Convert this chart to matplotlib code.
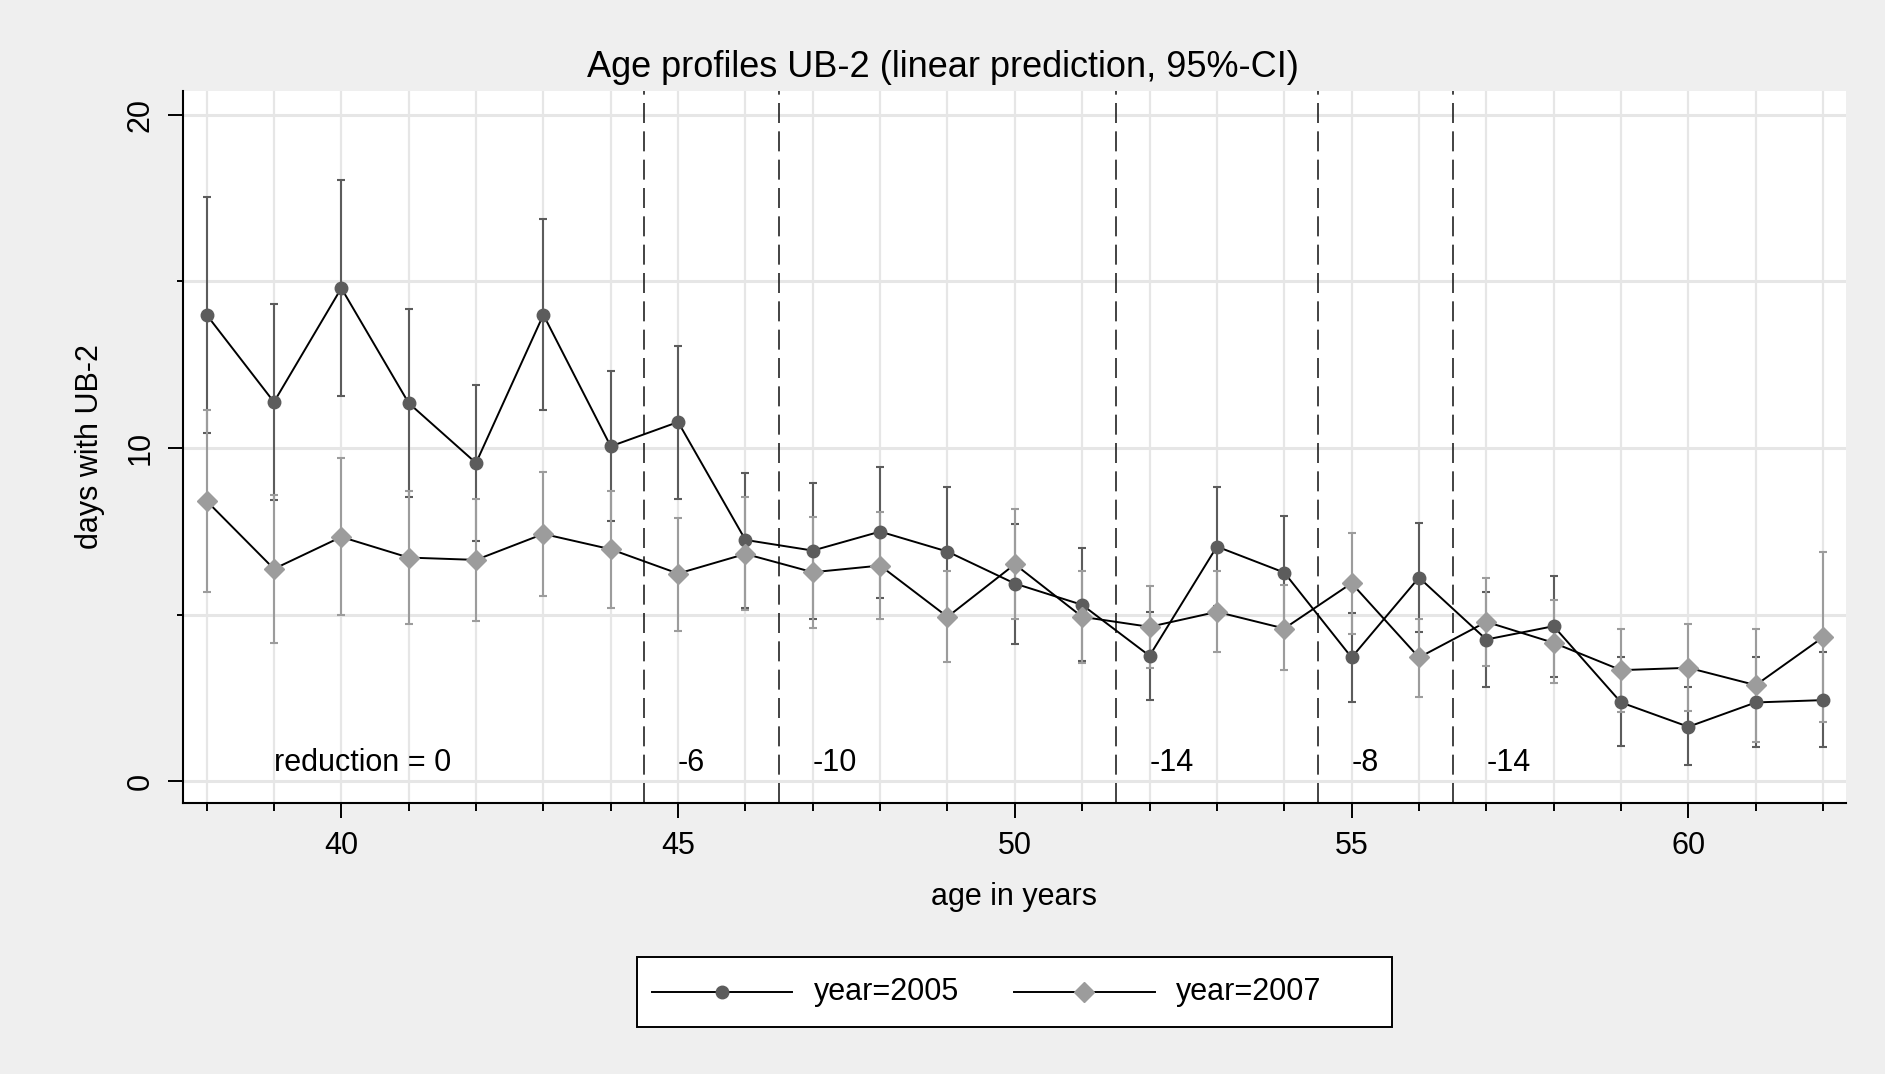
import matplotlib
matplotlib.use("Agg")
import matplotlib.pyplot as plt
from matplotlib.lines import Line2D
from matplotlib.patches import Rectangle
import numpy as np

plt.rcParams['font.family'] = ['Liberation Sans', 'DejaVu Sans']

# data
ages = list(range(38, 63))

mean_2005 = [14.0, 11.38, 14.8, 11.35, 9.55, 14.0, 10.05, 10.78, 7.24, 6.92,
             7.49, 6.89, 5.93, 5.29, 3.76, 7.04, 6.26, 3.71, 6.11, 4.25,
             4.65, 2.36, 1.63, 2.36, 2.43]
lo_2005 = [10.45, 8.44, 11.56, 8.53, 7.21, 11.14, 7.80, 8.47, 5.19, 4.88,
           5.50, 4.94, 4.12, 3.59, 2.43, 5.26, 4.56, 2.38, 4.48, 2.83,
           3.11, 1.05, 0.48, 1.03, 1.03]
hi_2005 = [17.55, 14.32, 18.05, 14.17, 11.89, 16.88, 12.30, 13.06, 9.24, 8.96,
           9.44, 8.84, 7.72, 6.99, 5.09, 8.82, 7.96, 5.06, 7.74, 5.67,
           6.17, 3.71, 2.81, 3.71, 3.86]

mean_2007 = [8.41, 6.37, 7.33, 6.71, 6.64, 7.42, 6.96, 6.23, 6.82, 6.27,
             6.47, 4.93, 6.51, 4.93, 4.63, 5.08, 4.58, 5.94, 3.71, 4.78,
             4.15, 3.33, 3.40, 2.88, 4.32]
lo_2007 = [5.69, 4.14, 4.98, 4.72, 4.81, 5.56, 5.20, 4.50, 5.14, 4.60,
           4.86, 3.56, 4.88, 3.54, 3.39, 3.86, 3.33, 4.43, 2.53, 3.45,
           2.93, 2.08, 2.10, 1.18, 1.76]
hi_2007 = [11.13, 8.60, 9.70, 8.70, 8.48, 9.29, 8.71, 7.91, 8.52, 7.94,
           8.09, 6.32, 8.16, 6.32, 5.87, 6.32, 5.89, 7.44, 4.88, 6.11,
           5.44, 4.56, 4.71, 4.56, 6.89]

cutoffs = [44.5, 46.5, 51.5, 54.5, 56.5]
red_labels = ["reduction = 0", "-6", "-10", "-14", "-8", "-14"]
red_x = [39, 45, 47, 52, 55, 57]

BG = "#efefef"
GRID = "#e6e6e6"
C05 = "#5c5c5c"
C07 = "#9c9c9c"
FS = 22

fig = plt.figure(figsize=(18.85, 10.74), dpi=100, facecolor=BG)
ax = fig.add_axes([0.0971, 0.2523, 0.9793 - 0.0971, 0.9153 - 0.2523])
ax.set_facecolor("white")

ax.set_xlim(37.65, 62.34)
ax.set_ylim(-0.66, 20.72)

ax.set_xticks([40, 45, 50, 55, 60])
ax.set_xticks(ages, minor=True)
ax.set_yticks([0, 10, 20])
ax.set_yticks([5, 15], minor=True)

ax.grid(True, which="both", axis="y", color=GRID, lw=2.2, zorder=0)
ax.grid(True, which="both", axis="x", color=GRID, lw=1.6, zorder=0)
ax.set_axisbelow(True)

for s in ["top", "right"]:
    ax.spines[s].set_visible(False)
for s in ["left", "bottom"]:
    ax.spines[s].set_linewidth(1.5)

ax.tick_params(axis="both", which="major", length=10.8, width=1.4, labelsize=FS, pad=9)
ax.tick_params(axis="x", which="minor", length=5.8, width=1.4)
ax.tick_params(axis="y", which="minor", length=4.3, width=1.4)
for lab in ax.get_yticklabels():
    lab.set_rotation(90)
    lab.set_va("center")

# cutoff lines
for c in cutoffs:
    ax.axvline(c, color="#222222", lw=1.2, dashes=(12, 5), zorder=1)

for x, t in zip(red_x, red_labels):
    ax.text(x, 0.08, t, fontsize=FS, ha="left", va="bottom", zorder=5)

# confidence intervals
ax.errorbar(ages, mean_2005,
            yerr=[np.subtract(mean_2005, lo_2005), np.subtract(hi_2005, mean_2005)],
            fmt="none", ecolor=C05, elinewidth=1.5, capsize=3, capthick=1.5, zorder=2)
ax.errorbar(ages, mean_2007,
            yerr=[np.subtract(mean_2007, lo_2007), np.subtract(hi_2007, mean_2007)],
            fmt="none", ecolor=C07, elinewidth=1.5, capsize=3, capthick=1.5, zorder=2)

# connected point estimates
ax.plot(ages, mean_2005, color="black", lw=1.4, zorder=3)
ax.plot(ages, mean_2005, ls="none", marker="o", ms=9, color=C05, zorder=4)
ax.plot(ages, mean_2007, color="black", lw=1.4, zorder=3)
ax.plot(ages, mean_2007, ls="none", marker="D", ms=10.5, color=C07, zorder=5)

fig.text(0.5, 0.9283, "Age profiles UB-2 (linear prediction, 95%-CI)",
         fontsize=26, ha="center", va="baseline")
fig.text(0.538, 0.1648, "age in years", fontsize=FS, ha="center", va="center")
fig.text(0.0477, 0.5838, "days with UB-2", fontsize=FS, ha="center", va="center",
         rotation=90)

# legend box drawn by hand (Stata keeps a wide right margin)
fig.add_artist(Rectangle((0.3379, 0.0438), 0.4005, 0.0652, transform=fig.transFigure,
                         facecolor="white", edgecolor="black", lw=1.4))
ly = 0.0764
for (x0, x1), col, mk, ms, lab, tx in [
        ((0.3459, 0.4202), C05, "o", 9, "year=2005", 0.4318),
        ((0.5379, 0.6127), C07, "D", 10.5, "year=2007", 0.6239)]:
    fig.add_artist(Line2D([x0, x1], [ly, ly], transform=fig.transFigure,
                          color="black", lw=1.4))
    fig.add_artist(Line2D([(x0 + x1) / 2], [ly], transform=fig.transFigure,
                          ls="none", marker=mk, ms=ms, color=col))
    fig.text(tx, ly, lab, fontsize=FS, ha="left", va="center")

fig.savefig("out.png", dpi=100, facecolor=BG)
